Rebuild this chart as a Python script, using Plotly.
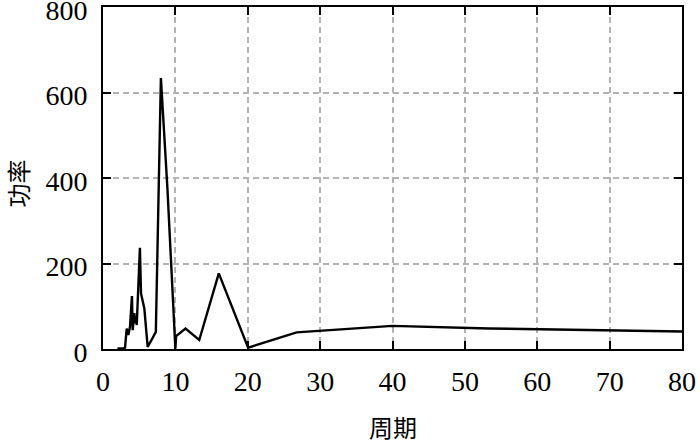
import plotly.graph_objects as go

# Periodogram: period (周期) vs power (功率)
period = [2.0, 2.22, 2.5, 2.86, 3.05, 3.27, 3.5, 3.73, 4.0, 4.1, 4.33, 4.42, 4.56, 4.66,
          5.1, 5.25, 5.71, 6.17, 6.67, 7.3, 8.0, 8.9, 10.0, 10.1, 11.4, 13.3, 16.0,
          20.05, 26.75, 40.0, 53.3, 80.0]
power = [1, 1, 1, 2, 3, 48, 33, 52, 124, 44, 84, 60, 76, 56,
         237, 130, 95, 5, 20, 40, 634, 376, 1, 30, 48, 21, 177,
         3, 39, 54, 48, 41]

x_ticks = [0, 10, 20, 30, 40, 50, 60, 70, 80]
y_ticks = [0, 200, 400, 600, 800]
x_title = "周期"
y_title = "功率"

serif = "Liberation Serif, Times New Roman, Noto Sans CJK SC, serif"

fig = go.Figure()
fig.add_trace(go.Scatter(x=period, y=power, mode="lines",
                         line=dict(color="black", width=2.4), showlegend=False,
                         hoverinfo="skip", cliponaxis=False))

axis_common = dict(
    showline=True, linecolor="black", linewidth=2, mirror="ticks",
    ticks="inside", ticklen=8, tickwidth=2, tickcolor="black",
    showgrid=True, gridcolor="#b3b3b3", gridwidth=1.6, griddash="6px,4px",
    zeroline=False, automargin=False, ticklabeloverflow="allow",
    tickfont=dict(family=serif, size=28, color="black"),
)

fig.update_xaxes(range=[0, 80], tickvals=x_ticks, ticklabelstandoff=6, **axis_common)
fig.update_yaxes(range=[0, 800], tickvals=y_ticks, ticklabelstandoff=8,
                 ticklabelshift=3, **axis_common)

fig.add_annotation(text=x_title, xref="paper", yref="paper", x=0.5, y=-0.228,
                   xanchor="center", yanchor="middle", showarrow=False,
                   font=dict(family="Noto Sans CJK SC", size=24, color="black"))
fig.add_annotation(text=y_title, xref="paper", yref="paper", x=-0.148, y=0.485,
                   xanchor="center", yanchor="middle", showarrow=False, textangle=-90,
                   font=dict(family="Noto Sans CJK SC", size=24, color="black"))

fig.update_layout(
    width=700, height=443,
    margin=dict(l=103, r=18, t=7, b=94),
    plot_bgcolor="white", paper_bgcolor="white",
)

fig.write_html("out.html", config={"displayModeBar": False},
               post_script="document.body.style.margin='0';document.body.style.overflow='hidden';")
